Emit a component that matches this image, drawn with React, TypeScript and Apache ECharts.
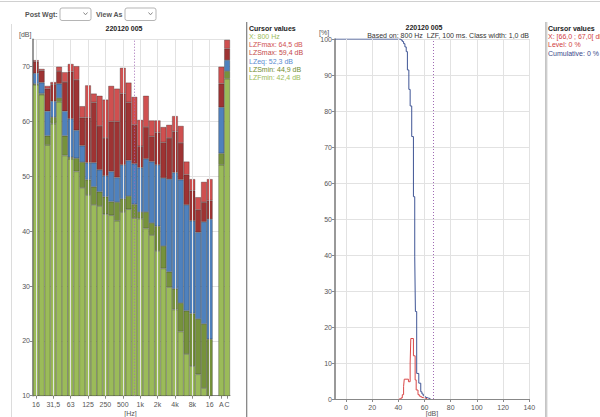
import React, { useEffect, useRef } from "react";
import * as echarts from "echarts";

// ---- Left chart: 1/3-octave spectrum (31 bands + A + C) ----
const bandNames = ["16", "20", "25", "31,5", "40", "50", "63", "80", "100", "125", "160", "200", "250", "315", "400", "500", "630", "800", "1k", "1,25k", "1,6k", "2k", "2,5k", "3,15k", "4k", "5k", "6,3k", "8k", "10k", "12,5k", "16k"];
const extraNames = ["gap", "A", "C"];
const shownLabels: Record<string, string> = { "16": "16", "31,5": "31,5", "63": "63", "125": "125", "250": "250", "500": "500", "1k": "1k", "2k": "2k", "4k": "4k", "8k": "8k", "16k": "16", A: "A", C: "C" };
const gridBands = ["16", "31,5", "63", "125", "250", "500", "1k", "2k", "4k", "8k", "16k"];

// values: 31 bands, then A, C
const LZFmax = [71.2, 69.6, 66.5, 67.2, 70.0, 69.0, 70.5, 70.1, 62.8, 66.6, 65.1, 64.7, 64.0, 66.5, 66.0, 69.8, 67.1, 64.5, 60.3, 64.7, 60.2, 60.2, 59.0, 59.4, 61.0, 59.2, 52.7, 49.5, 46.2, 49.0, 49.5, 70.0, 74.9];
const LZSmax = [70.9, 69.3, 66.0, 66.8, 69.2, 67.2, 69.1, 67.6, 60.7, 60.7, 63.5, 59.2, 57.0, 60.0, 60.0, 65.1, 63.5, 59.4, 55.5, 59.0, 57.3, 58.0, 56.2, 57.0, 58.2, 56.1, 50.3, 47.4, 43.9, 45.3, 45.6, 66.9, 73.3];
const LZeq = [68.8, 67.1, 61.9, 63.7, 66.9, 61.9, 60.5, 58.4, 55.6, 52.5, 52.5, 51.2, 50.1, 50.9, 49.8, 52.1, 52.9, 52.3, 51.6, 53.2, 52.7, 52.1, 49.7, 49.5, 50.7, 49.4, 44.8, 41.9, 39.8, 41.7, 42.2, 62.6, 71.2];
const LZSmin = [66.9, 65.1, 57.4, 60.8, 64.3, 57.4, 53.5, 53.3, 52.6, 49.4, 48.1, 47.2, 46.3, 45.4, 45.3, 45.9, 46.4, 44.9, 43.5, 43.5, 41.5, 40.9, 37.3, 32.6, 29.5, 26.9, 25.5, 25.0, 24.0, 23.1, 20.3, 54.2, 69.2];
const LZFmin = [66.7, 64.9, 55.7, 59.6, 63.6, 53.8, 53.2, 50.9, 47.9, 46.6, 44.8, 44.6, 43.1, 42.9, 41.9, 43.5, 44.0, 42.4, 42.3, 40.5, 39.3, 36.4, 33.2, 29.8, 25.7, 21.7, 17.6, 15.4, 13.9, 11.4, 9.5, 52.1, 67.8];
const cursorBand = "800";

// ---- Right chart: level distribution ----
const cumDb = [-8.4, 41, 42, 43, 44, 45, 46, 46.9, 48, 49, 50.2, 51.5, 52.5, 53, 54, 55.6, 57.1, 58, 59, 60, 61, 62, 63, 64.5];
const cumPct = [100, 100, 99.7, 99.3, 98.7, 97.8, 96.5, 91.4, 86, 81.4, 72.9, 56.2, 39.5, 24.3, 7.1, 4.4, 2.0, 1.4, 0.9, 0.6, 0.4, 0.25, 0.1, 0];
const lvlDb = [40, 42, 43, 44, 44.5, 47.7, 49, 49.5, 51.5, 52.8, 53.6, 55, 56, 57, 58, 59, 60, 61, 62];
const lvlPct = [0, 0.3, 1.2, 3.5, 5.5, 4.8, 10, 16.8, 12, 5.3, 2.5, 1.2, 0.8, 0.6, 0.4, 0.3, 0.2, 0.1, 0];
const dbTicks = [0, 20, 40, 60, 80, 100, 120, 140];
const cursorClass = [66, 67];
const cursorLevel = 0;
const cursorCum = 0;

const C_LGREEN = "#9BBB59";
const C_OLIVE = "#76923C";
const C_BLUE = "#4F81BD";
const C_DRED = "#9E3333";
const C_LRED = "#CF5050";
const FONT = "Liberation Sans";

const fmt = (v: number) => v.toFixed(1).replace(".", ",");

export default function App() {
  const ref = useRef<HTMLDivElement>(null);
  useEffect(() => {
    if (!ref.current) return;
    const chart = echarts.init(ref.current, undefined, { renderer: "svg" });
    const cats = [...bandNames, ...extraNames];
    const full = (a: (number | null)[]) => [...a.slice(0, 31), null, ...a.slice(31)];
    const diff = (a: number[], b: number[]) => a.map((v, i) => Math.round((v - b[i]) * 100) / 100);
    const segs = [
      { name: "LZFmin", data: full(LZFmin), color: C_LGREEN },
      { name: "LZSmin", data: full(diff(LZSmin, LZFmin)), color: C_OLIVE },
      { name: "LZeq", data: full(diff(LZeq, LZSmin)), color: C_BLUE },
      { name: "LZSmax", data: full(diff(LZSmax, LZeq)), color: C_DRED },
      { name: "LZFmax", data: full(diff(LZFmax, LZSmax)), color: C_LRED },
    ];
    const ci = bandNames.indexOf(cursorBand);
    const labelIdx = (i: number) => shownLabels[cats[i]] !== undefined;

    const txt = (text: string, x: number, y: number, fill: string, extra: any = {}) => ({
      type: "text",
      x,
      y,
      silent: true,
      style: {
        text,
        fill,
        fontSize: 7,
        fontFamily: FONT,
        align: extra.align || "left",
        textAlign: extra.align || "left",
        verticalAlign: "middle",
        textVerticalAlign: "middle",
        fontWeight: extra.bold ? "bold" : "normal",
      },
    });

    const option: any = {
      animation: false,
      textStyle: { fontFamily: FONT },
      grid: [
        { left: 33, top: 39.3, width: 197, height: 356.4 },
        { left: 335, top: 39, width: 194.3, height: 360 },
      ],
      xAxis: [
        {
          type: "category",
          gridIndex: 0,
          data: cats,
          axisLine: { lineStyle: { color: "#888", width: 1 } },
          axisTick: { show: true, alignWithLabel: true, length: 3, interval: (i: number) => labelIdx(i), lineStyle: { color: "#888" } },
          axisLabel: {
            interval: (i: number) => labelIdx(i),
            formatter: (v: string) => shownLabels[v] ?? "",
            fontSize: 7,
            color: "#555",
            margin: 5,
          },
          splitLine: { show: false },
        },
        {
          type: "value",
          gridIndex: 1,
          min: -8.4,
          max: 140,
          axisLine: { show: true, onZero: false, lineStyle: { color: "#888" } },
          axisTick: { show: true, length: 3, customValues: dbTicks, lineStyle: { color: "#888" } },
          axisLabel: { fontSize: 7, color: "#555", margin: 5, customValues: dbTicks },
          splitLine: { show: false },
        },
      ],
      yAxis: [
        {
          type: "value",
          gridIndex: 0,
          min: 10,
          max: 75,
          interval: 10,
          axisLine: { show: true, lineStyle: { color: "#777", width: 1.5 } },
          axisTick: { show: true, length: 3, lineStyle: { color: "#888" } },
          axisLabel: { fontSize: 7, color: "#555", margin: 3, showMaxLabel: false },
          splitLine: { lineStyle: { color: "#e2e2e2" } },
        },
        {
          type: "value",
          gridIndex: 1,
          min: 0,
          max: 100,
          interval: 10,
          axisLine: { show: true, onZero: false, lineStyle: { color: "#777", width: 1.5 } },
          axisTick: { show: true, length: 3, lineStyle: { color: "#888" } },
          axisLabel: { fontSize: 7, color: "#555", margin: 3 },
          splitLine: { lineStyle: { color: "#e2e2e2" } },
        },
      ],
      series: [
        {
          type: "line",
          xAxisIndex: 0,
          yAxisIndex: 0,
          data: cats.map(() => null),
          z: 0,
          silent: true,
          markLine: {
            silent: true,
            symbol: "none",
            label: { show: false },
            lineStyle: { color: "#e2e2e2", type: "solid", width: 1 },
            data: gridBands.map((b) => ({ xAxis: b })),
          },
        },
        ...segs.map((s) => ({
          name: s.name,
          type: "bar",
          stack: "spec",
          xAxisIndex: 0,
          yAxisIndex: 0,
          data: s.data,
          barCategoryGap: "0%",
          clip: true,
          z: 2,
          itemStyle: { color: s.color, borderColor: "rgba(30,30,30,0.6)", borderWidth: 0.5 },
        })),
        {
          type: "line",
          xAxisIndex: 0,
          yAxisIndex: 0,
          data: cats.map(() => null),
          z: 6,
          silent: true,
          markLine: {
            silent: true,
            symbol: "none",
            label: { show: false },
            lineStyle: { color: "#A06AB4", type: [1, 2], width: 1 },
            data: [{ xAxis: bandNames[ci] }],
          },
        },
        {
          type: "line",
          xAxisIndex: 1,
          yAxisIndex: 1,
          data: [],
          z: 0,
          silent: true,
          markLine: {
            silent: true,
            symbol: "none",
            label: { show: false },
            lineStyle: { color: "#e2e2e2", type: "solid", width: 1 },
            data: dbTicks.map((v) => ({ xAxis: v })),
          },
        },
        {
          name: "Level",
          type: "line",
          xAxisIndex: 1,
          yAxisIndex: 1,
          step: "end",
          showSymbol: false,
          symbol: "none",
          z: 3,
          lineStyle: { color: "#D94848", width: 1 },
          data: lvlDb.map((d, i) => [d, lvlPct[i]]),
        },
        {
          name: "Cumulative",
          type: "line",
          xAxisIndex: 1,
          yAxisIndex: 1,
          step: "end",
          showSymbol: false,
          symbol: "none",
          z: 4,
          lineStyle: { color: "#3F5595", width: 1 },
          data: cumDb.map((d, i) => [d, cumPct[i]]),
          markLine: {
            silent: true,
            symbol: "none",
            label: { show: false },
            lineStyle: { color: "#A06AB4", type: [1, 2], width: 1 },
            data: [{ xAxis: (cursorClass[0] + cursorClass[1]) / 2 }],
          },
        },
      ],
      graphic: [
        { type: "line", silent: true, shape: { x1: 0, y1: 1.5, x2: 600, y2: 1.5 }, style: { stroke: "#d0d0d0", lineWidth: 1 } },
        { type: "line", silent: true, shape: { x1: 11.5, y1: 24, x2: 11.5, y2: 417 }, style: { stroke: "#dcdcdc", lineWidth: 1 } },
        txt("Post Wgt:", 25, 14, "#555", { bold: true }),
        { type: "rect", silent: true, shape: { x: 60, y: 8, width: 31, height: 12.5, r: 2 }, style: { fill: "#fff", stroke: "#b5b5b5", lineWidth: 1 } },
        { type: "polyline", silent: true, shape: { points: [[83.5, 12.5], [85.5, 14.8], [87.5, 12.5]] }, style: { stroke: "#888", fill: "none", lineWidth: 1 } },
        txt("View As", 96, 14, "#555", { bold: true }),
        { type: "rect", silent: true, shape: { x: 125, y: 8, width: 31, height: 12.5, r: 2 }, style: { fill: "#fff", stroke: "#b5b5b5", lineWidth: 1 } },
        { type: "polyline", silent: true, shape: { points: [[148.5, 12.5], [150.5, 14.8], [152.5, 12.5]] }, style: { stroke: "#888", fill: "none", lineWidth: 1 } },
        txt("220120 005", 124, 28, "#222", { bold: true, align: "center" }),
        txt("[dB]", 19, 34.5, "#555"),
        txt("[Hz]", 130.5, 413, "#555", { align: "center" }),
        { type: "line", silent: true, shape: { x1: 246.5, y1: 22, x2: 246.5, y2: 417 }, style: { stroke: "#8a8a8a", lineWidth: 1 } },
        { type: "line", silent: true, shape: { x1: 247.5, y1: 22, x2: 247.5, y2: 417 }, style: { stroke: "#d8d8d8", lineWidth: 1 } },
        txt("Cursor values", 249, 28.3, "#222", { bold: true }),
        txt(`X: ${bandNames[ci]} Hz`, 249, 36.7, C_LGREEN),
        txt(`LZFmax: ${fmt(LZFmax[ci])} dB`, 249, 44.6, "#D05050"),
        txt(`LZSmax: ${fmt(LZSmax[ci])} dB`, 249, 52.8, "#C44848"),
        txt(`LZeq: ${fmt(LZeq[ci])} dB`, 249, 61, "#5B8BD0"),
        txt(`LZSmin: ${fmt(LZSmin[ci])} dB`, 249, 69.1, "#6E8B2E"),
        txt(`LZFmin: ${fmt(LZFmin[ci])} dB`, 249, 77.3, C_LGREEN),
        txt("220120 005", 424, 27.3, "#222", { bold: true, align: "center" }),
        txt("Based on: 800 Hz  LZF, 100 ms. Class width: 1,0 dB", 529, 35.7, "#333", { align: "right" }),
        txt("[%]", 319, 32.5, "#555"),
        txt("[dB]", 432, 413, "#555", { align: "center" }),
        { type: "line", silent: true, shape: { x1: 546, y1: 22, x2: 546, y2: 417 }, style: { stroke: "#8a8a8a", lineWidth: 1 } },
        { type: "line", silent: true, shape: { x1: 547, y1: 22, x2: 547, y2: 417 }, style: { stroke: "#d8d8d8", lineWidth: 1 } },
        txt("Cursor values", 548, 28.3, "#222", { bold: true }),
        txt(`X: [${fmt(cursorClass[0])} ; ${fmt(cursorClass[1])}[ dB`, 548, 36.7, "#D04040"),
        txt(`Level: ${cursorLevel} %`, 548, 44.7, "#D04040"),
        txt(`Cumulative: ${cursorCum} %`, 548, 53, "#3A4A8A"),
      ],
    };
    chart.setOption(option);
    return () => chart.dispose();
  }, []);
  return <div ref={ref} style={{ position: "absolute", left: 0, top: 0, width: 600, height: 417 }} />;
}
